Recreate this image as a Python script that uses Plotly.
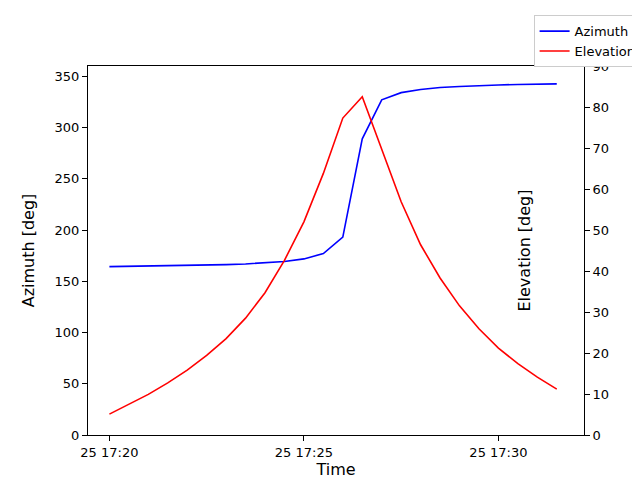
import plotly.graph_objects as go
import pandas as pd

times = pd.date_range("2024-01-25 17:20:00", periods=24, freq="30s")
azimuth = [164.3, 164.5, 164.7, 165.0, 165.3, 165.7, 166.2, 166.9, 167.8, 169.2,
           171.8, 177.0, 193.0, 289.0, 327.0, 334.0, 337.0, 339.0, 340.0, 341.0,
           341.5, 342.0, 342.3, 342.6]
elevation = [5.1, 7.4, 9.9, 12.7, 15.8, 19.4, 23.5, 28.5, 34.7, 42.6,
             52.0, 63.8, 77.3, 82.5, 69.5, 56.9, 46.4, 38.3, 31.5, 25.9,
             21.2, 17.4, 14.1, 11.2]

fig = go.Figure()
fig.add_trace(go.Scatter(x=times, y=azimuth, mode="lines", name="Azimuth",
                         line=dict(color="blue", width=1.6)))
fig.add_trace(go.Scatter(x=times, y=elevation, mode="lines", name="Elevation",
                         line=dict(color="red", width=1.6), yaxis="y2"))

ax = dict(showline=True, linecolor="black", ticks="outside", automargin=False,
          tickcolor="black", showgrid=False, zeroline=False)
fig.update_layout(
    width=640, height=480, plot_bgcolor="white", paper_bgcolor="white",
    font=dict(family="DejaVu Sans", size=13, color="black"),
    margin=dict(l=80, r=64, t=58, b=53, autoexpand=False),
    xaxis=dict(**ax, mirror=True, title=dict(text="Time", standoff=5), tickformat="%d %H:%M",
               tickvals=pd.to_datetime(["2024-01-25 17:20", "2024-01-25 17:25", "2024-01-25 17:30"]),
               range=[pd.Timestamp("2024-01-25 17:19:27"), pd.Timestamp("2024-01-25 17:32:12")]),
    yaxis=dict(**ax, title="Azimuth [deg]", range=[0, 360], dtick=50),
    yaxis2=dict(**ax, title="Elevation [deg]", range=[0, 90], dtick=10,
                overlaying="y", side="right"),
    legend=dict(xref="container", yref="container", x=0.99, y=0.985,
                xanchor="right", yanchor="top",
                bordercolor="#ccc", borderwidth=1, bgcolor="white",
                tracegroupgap=0, font=dict(size=13)),
)
fig.write_html("out.html")
